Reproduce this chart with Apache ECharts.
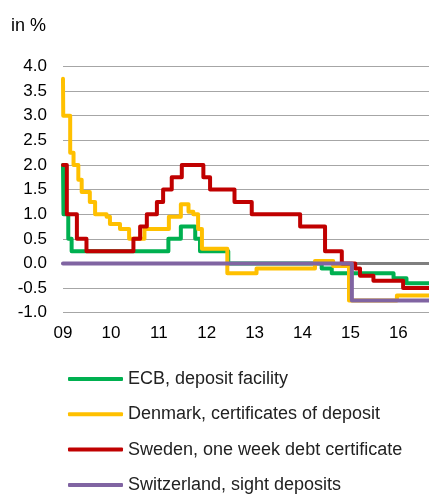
<!DOCTYPE html>
<html>
<head>
<meta charset="utf-8">
<script src="https://cdn.jsdelivr.net/npm/echarts@6/dist/echarts.min.js"></script>
<style>
  html, body { margin: 0; padding: 0; background: #fff; }
  #chart { width: 429px; height: 494px; }
</style>
</head>
<body>
<div id="chart"></div>
<script>
// values, dates as decimal years, each entry = start of a new rate
var yearTicks = [2009, 2010, 2011, 2012, 2013, 2014, 2015, 2016];

var ecbDates = [2009.0, 2009.01, 2009.11, 2009.18, 2011.2, 2011.46, 2011.76, 2011.86, 2012.45, 2014.4, 2014.61, 2015.9, 2016.17, 2016.64];
var ecbRates = [2.0, 1.0, 0.5, 0.25, 0.5, 0.75, 0.5, 0.25, 0.0, -0.1, -0.2, -0.3, -0.4, -0.4];

var dkDates = [2009.0, 2009.005, 2009.15, 2009.22, 2009.32, 2009.39, 2009.56, 2009.67, 2009.91, 2009.98, 2010.19, 2010.38, 2010.7, 2011.21, 2011.46, 2011.62, 2011.72, 2011.82, 2011.9, 2012.43, 2013.04, 2014.26, 2014.64, 2014.97, 2015.97, 2016.64];
var dkRates = [3.75, 3.0, 2.25, 2.0, 1.7, 1.45, 1.25, 1.0, 0.95, 0.8, 0.7, 0.5, 0.7, 0.95, 1.2, 1.05, 1.0, 0.7, 0.3, -0.2, -0.1, 0.05, -0.05, -0.75, -0.65, -0.65];

var seDates = [2009.0, 2009.08, 2009.29, 2009.49, 2010.47, 2010.61, 2010.75, 2010.96, 2011.09, 2011.27, 2011.48, 2011.93, 2012.07, 2012.58, 2012.94, 2013.95, 2014.47, 2014.82, 2015.1, 2015.2, 2015.48, 2016.1, 2016.64];
var seRates = [2.0, 1.0, 0.5, 0.25, 0.5, 0.75, 1.0, 1.25, 1.5, 1.75, 2.0, 1.75, 1.5, 1.25, 1.0, 0.75, 0.25, 0.0, -0.1, -0.25, -0.35, -0.5, -0.5];

var chDates = [2009.0, 2015.03, 2016.64];
var chRates = [0.0, -0.75, -0.75];

var seriesNames = [
    'ECB, deposit facility',
    'Denmark, certificates of deposit',
    'Sweden, one week debt certificate',
    'Switzerland, sight deposits'
];
var seriesColors = ['#00b050', '#ffc000', '#c00000', '#8064a2'];

function pairs(dates, rates) {
    return dates.map(function (d, i) { return [d, rates[i]]; });
}

var chart = echarts.init(document.getElementById('chart'));

var stepLine = function (idx, dates, rates) {
    return {
        name: seriesNames[idx],
        type: 'line',
        step: 'end',
        showSymbol: false,
        data: pairs(dates, rates),
        lineStyle: { width: 4, color: seriesColors[idx], cap: 'round', join: 'round' },
        itemStyle: { color: seriesColors[idx] },
        z: 3
    };
};

var font = 'Liberation Sans, Arial';

var option = {
    animation: false,
    title: {
        text: 'in %',
        left: 6,
        top: 12,
        textStyle: { fontFamily: font, fontSize: 18, fontWeight: 'normal', color: '#000' }
    },
    grid: { left: 63, right: 0, top: 66.5, bottom: 181.3 },
    xAxis: [
        {
            type: 'value',
            min: yearTicks[0],
            max: 2016.64,
            interval: 1,
            axisLine: { show: false, onZero: false },
            axisTick: { show: false },
            splitLine: { show: false },
            axisLabel: {
                margin: 12,
                fontFamily: font,
                fontSize: 17,
                color: '#000',
                showMaxLabel: false,
                formatter: function (v) {
                    return yearTicks.indexOf(v) >= 0 ? String(v).slice(2) : '';
                }
            }
        },
        {
            // dark zero line, sits under the series
            type: 'value',
            min: yearTicks[0],
            max: 2016.64,
            position: 'bottom',
            axisLine: { show: true, onZero: true, lineStyle: { color: '#7f7f7f', width: 3 } },
            axisTick: { show: false },
            axisLabel: { show: false },
            splitLine: { show: false }
        }
    ],
    yAxis: {
        type: 'value',
        min: -1,
        max: 4,
        interval: 0.5,
        axisLine: { show: false },
        axisTick: { show: false },
        splitLine: { lineStyle: { color: '#a6a6a6', width: 1 } },
        axisLabel: {
            margin: 16,
            fontFamily: font,
            fontSize: 17,
            color: '#000',
            formatter: function (v) { return v.toFixed(1); }
        }
    },
    legend: {
        orient: 'vertical',
        left: 68,
        top: 370,
        height: 140,
        padding: 0,
        icon: 'roundRect',
        itemWidth: 55,
        itemHeight: 4,
        itemGap: 17.3,
        data: seriesNames,
        textStyle: { fontFamily: font, fontSize: 18, lineHeight: 16, color: '#222' }
    },
    series: [
        stepLine(0, ecbDates, ecbRates),
        stepLine(1, dkDates, dkRates),
        stepLine(2, seDates, seRates),
        stepLine(3, chDates, chRates)
    ]
};

chart.setOption(option);
</script>
</body>
</html>
